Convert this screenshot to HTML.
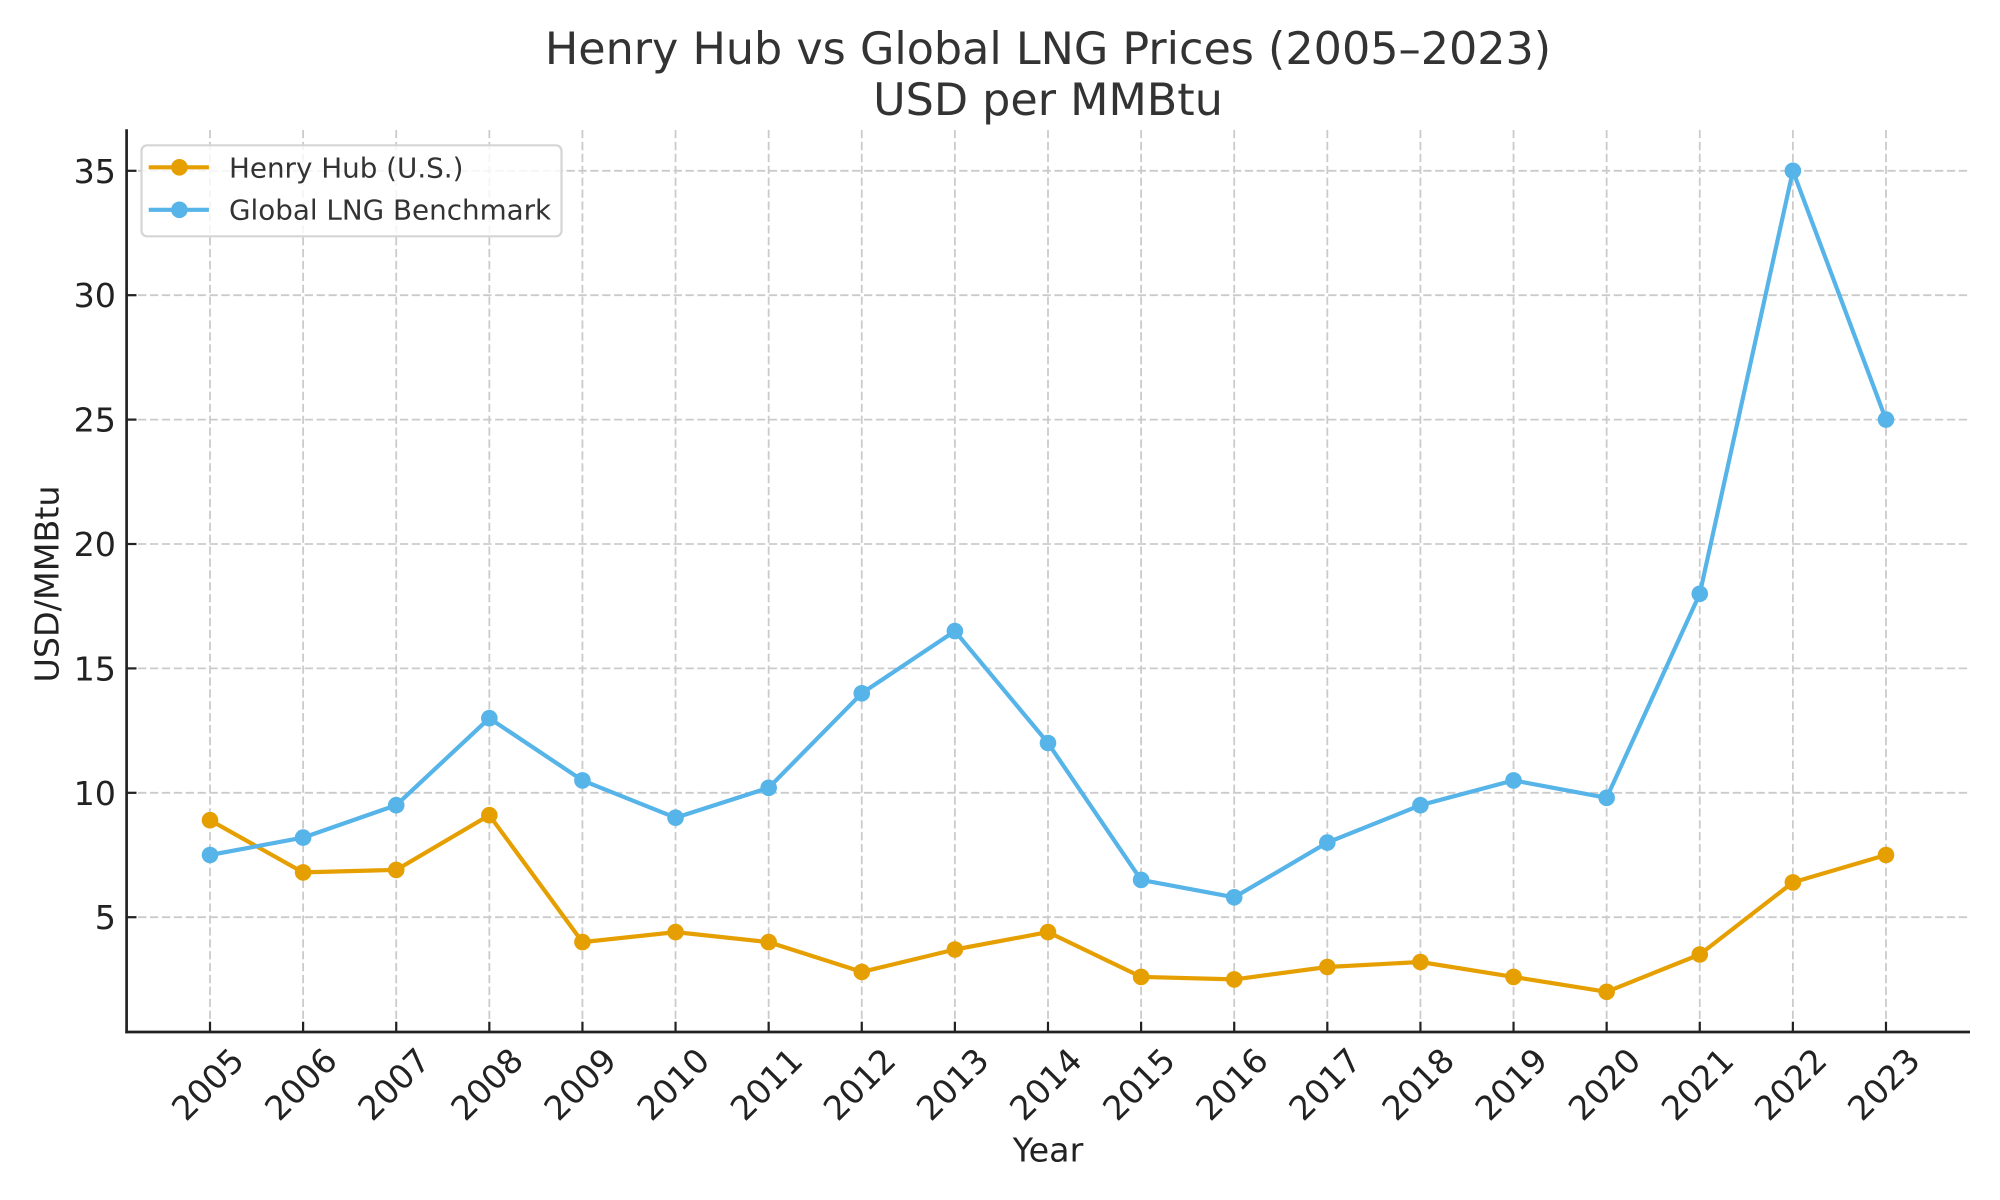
<!DOCTYPE html>
<html>
<head>
<meta charset="utf-8">
<style>
html,body{margin:0;padding:0;background:#fff;}
svg{display:block;}
text{font-family:"DejaVu Sans","Liberation Sans",sans-serif;}
</style>
</head>
<body>
<svg width="2000" height="1200" viewBox="0 0 2000 1200" xmlns="http://www.w3.org/2000/svg">
<rect width="2000" height="1200" fill="#fff"/>

<!-- Title -->
<text x="1048" y="64" font-size="44.44" fill="#333" text-anchor="middle">Henry Hub vs Global LNG Prices (2005–2023)</text>
<text x="1048" y="115" font-size="44.44" fill="#333" text-anchor="middle">USD per MMBtu</text>

<!-- Grid -->
<g stroke="#cbcbcb" stroke-width="1.8" stroke-dasharray="8.3 3.6" fill="none">
<line x1="126.2" x2="1969.8" y1="917.2" y2="917.2"/>
<line x1="126.2" x2="1969.8" y1="792.8" y2="792.8"/>
<line x1="126.2" x2="1969.8" y1="668.4" y2="668.4"/>
<line x1="126.2" x2="1969.8" y1="544.0" y2="544.0"/>
<line x1="126.2" x2="1969.8" y1="419.6" y2="419.6"/>
<line x1="126.2" x2="1969.8" y1="295.2" y2="295.2"/>
<line x1="126.2" x2="1969.8" y1="170.8" y2="170.8"/>
<line x1="210" x2="210" y1="130" y2="1032"/>
<line x1="303.11" x2="303.11" y1="130" y2="1032"/>
<line x1="396.22" x2="396.22" y1="130" y2="1032"/>
<line x1="489.33" x2="489.33" y1="130" y2="1032"/>
<line x1="582.44" x2="582.44" y1="130" y2="1032"/>
<line x1="675.55" x2="675.55" y1="130" y2="1032"/>
<line x1="768.66" x2="768.66" y1="130" y2="1032"/>
<line x1="861.77" x2="861.77" y1="130" y2="1032"/>
<line x1="954.88" x2="954.88" y1="130" y2="1032"/>
<line x1="1047.99" x2="1047.99" y1="130" y2="1032"/>
<line x1="1141.1" x2="1141.1" y1="130" y2="1032"/>
<line x1="1234.21" x2="1234.21" y1="130" y2="1032"/>
<line x1="1327.32" x2="1327.32" y1="130" y2="1032"/>
<line x1="1420.43" x2="1420.43" y1="130" y2="1032"/>
<line x1="1513.54" x2="1513.54" y1="130" y2="1032"/>
<line x1="1606.65" x2="1606.65" y1="130" y2="1032"/>
<line x1="1699.76" x2="1699.76" y1="130" y2="1032"/>
<line x1="1792.87" x2="1792.87" y1="130" y2="1032"/>
<line x1="1885.98" x2="1885.98" y1="130" y2="1032"/>
</g>

<!-- Henry Hub -->
<polyline fill="none" stroke="#E69F00" stroke-width="4.2" stroke-linejoin="round" stroke-linecap="round"
points="210,820.2 303.11,872.4 396.22,869.9 489.33,815.2 582.44,942.1 675.55,932.1 768.66,942.1 861.77,971.9 954.88,949.5 1047.99,932.1 1141.1,976.9 1234.21,979.4 1327.32,967.0 1420.43,962.0 1513.54,976.9 1606.65,991.8 1699.76,954.5 1792.87,882.4 1885.98,855.0"/>
<g fill="#E69F00">
<circle cx="210" cy="820.2" r="8.3"/><circle cx="303.11" cy="872.4" r="8.3"/><circle cx="396.22" cy="869.9" r="8.3"/><circle cx="489.33" cy="815.2" r="8.3"/><circle cx="582.44" cy="942.1" r="8.3"/><circle cx="675.55" cy="932.1" r="8.3"/><circle cx="768.66" cy="942.1" r="8.3"/><circle cx="861.77" cy="971.9" r="8.3"/><circle cx="954.88" cy="949.5" r="8.3"/><circle cx="1047.99" cy="932.1" r="8.3"/><circle cx="1141.1" cy="976.9" r="8.3"/><circle cx="1234.21" cy="979.4" r="8.3"/><circle cx="1327.32" cy="967.0" r="8.3"/><circle cx="1420.43" cy="962.0" r="8.3"/><circle cx="1513.54" cy="976.9" r="8.3"/><circle cx="1606.65" cy="991.8" r="8.3"/><circle cx="1699.76" cy="954.5" r="8.3"/><circle cx="1792.87" cy="882.4" r="8.3"/><circle cx="1885.98" cy="855.0" r="8.3"/>
</g>

<!-- Global LNG -->
<polyline fill="none" stroke="#56B4E9" stroke-width="4.2" stroke-linejoin="round" stroke-linecap="round"
points="210,855.0 303.11,837.6 396.22,805.2 489.33,718.2 582.44,780.4 675.55,817.7 768.66,787.8 861.77,693.3 954.88,631.1 1047.99,743.0 1141.1,879.9 1234.21,897.3 1327.32,842.6 1420.43,805.2 1513.54,780.4 1606.65,797.8 1699.76,593.8 1792.87,170.8 1885.98,419.6"/>
<g fill="#56B4E9">
<circle cx="210" cy="855.0" r="8.3"/><circle cx="303.11" cy="837.6" r="8.3"/><circle cx="396.22" cy="805.2" r="8.3"/><circle cx="489.33" cy="718.2" r="8.3"/><circle cx="582.44" cy="780.4" r="8.3"/><circle cx="675.55" cy="817.7" r="8.3"/><circle cx="768.66" cy="787.8" r="8.3"/><circle cx="861.77" cy="693.3" r="8.3"/><circle cx="954.88" cy="631.1" r="8.3"/><circle cx="1047.99" cy="743.0" r="8.3"/><circle cx="1141.1" cy="879.9" r="8.3"/><circle cx="1234.21" cy="897.3" r="8.3"/><circle cx="1327.32" cy="842.6" r="8.3"/><circle cx="1420.43" cy="805.2" r="8.3"/><circle cx="1513.54" cy="780.4" r="8.3"/><circle cx="1606.65" cy="797.8" r="8.3"/><circle cx="1699.76" cy="593.8" r="8.3"/><circle cx="1792.87" cy="170.8" r="8.3"/><circle cx="1885.98" cy="419.6" r="8.3"/>
</g>

<!-- Spines -->
<g stroke="#222" fill="none">
<line x1="126.6" x2="126.6" y1="129.3" y2="1033.3" stroke-width="2.7"/>
<line x1="125.3" x2="1970" y1="1032" y2="1032" stroke-width="2.7"/>
</g>
<!-- Ticks (inward) -->
<g stroke="#222" stroke-width="2.2">
<line x1="127" x2="136.5" y1="917.2" y2="917.2"/>
<line x1="127" x2="136.5" y1="792.8" y2="792.8"/>
<line x1="127" x2="136.5" y1="668.4" y2="668.4"/>
<line x1="127" x2="136.5" y1="544.0" y2="544.0"/>
<line x1="127" x2="136.5" y1="419.6" y2="419.6"/>
<line x1="127" x2="136.5" y1="295.2" y2="295.2"/>
<line x1="127" x2="136.5" y1="170.8" y2="170.8"/>
<line x1="210" x2="210" y1="1021.7" y2="1031"/>
<line x1="303.11" x2="303.11" y1="1021.7" y2="1031"/>
<line x1="396.22" x2="396.22" y1="1021.7" y2="1031"/>
<line x1="489.33" x2="489.33" y1="1021.7" y2="1031"/>
<line x1="582.44" x2="582.44" y1="1021.7" y2="1031"/>
<line x1="675.55" x2="675.55" y1="1021.7" y2="1031"/>
<line x1="768.66" x2="768.66" y1="1021.7" y2="1031"/>
<line x1="861.77" x2="861.77" y1="1021.7" y2="1031"/>
<line x1="954.88" x2="954.88" y1="1021.7" y2="1031"/>
<line x1="1047.99" x2="1047.99" y1="1021.7" y2="1031"/>
<line x1="1141.1" x2="1141.1" y1="1021.7" y2="1031"/>
<line x1="1234.21" x2="1234.21" y1="1021.7" y2="1031"/>
<line x1="1327.32" x2="1327.32" y1="1021.7" y2="1031"/>
<line x1="1420.43" x2="1420.43" y1="1021.7" y2="1031"/>
<line x1="1513.54" x2="1513.54" y1="1021.7" y2="1031"/>
<line x1="1606.65" x2="1606.65" y1="1021.7" y2="1031"/>
<line x1="1699.76" x2="1699.76" y1="1021.7" y2="1031"/>
<line x1="1792.87" x2="1792.87" y1="1021.7" y2="1031"/>
<line x1="1885.98" x2="1885.98" y1="1021.7" y2="1031"/>
</g>

<!-- Y tick labels -->
<g font-size="33.33" fill="#222" text-anchor="end">
<text x="116" y="929.2">5</text>
<text x="116" y="804.8">10</text>
<text x="116" y="680.4">15</text>
<text x="116" y="556.0">20</text>
<text x="116" y="431.6">25</text>
<text x="116" y="307.2">30</text>
<text x="116" y="182.8">35</text>
</g>

<!-- X tick labels -->
<g font-size="33.33" fill="#222" text-anchor="middle">
<text transform="translate(207.5,1084) rotate(-45)" y="12">2005</text>
<text transform="translate(300.6,1084) rotate(-45)" y="12">2006</text>
<text transform="translate(393.7,1084) rotate(-45)" y="12">2007</text>
<text transform="translate(486.8,1084) rotate(-45)" y="12">2008</text>
<text transform="translate(579.9,1084) rotate(-45)" y="12">2009</text>
<text transform="translate(673.0,1084) rotate(-45)" y="12">2010</text>
<text transform="translate(766.2,1084) rotate(-45)" y="12">2011</text>
<text transform="translate(859.3,1084) rotate(-45)" y="12">2012</text>
<text transform="translate(952.4,1084) rotate(-45)" y="12">2013</text>
<text transform="translate(1045.5,1084) rotate(-45)" y="12">2014</text>
<text transform="translate(1138.6,1084) rotate(-45)" y="12">2015</text>
<text transform="translate(1231.7,1084) rotate(-45)" y="12">2016</text>
<text transform="translate(1324.8,1084) rotate(-45)" y="12">2017</text>
<text transform="translate(1417.9,1084) rotate(-45)" y="12">2018</text>
<text transform="translate(1511.0,1084) rotate(-45)" y="12">2019</text>
<text transform="translate(1604.2,1084) rotate(-45)" y="12">2020</text>
<text transform="translate(1697.3,1084) rotate(-45)" y="12">2021</text>
<text transform="translate(1790.4,1084) rotate(-45)" y="12">2022</text>
<text transform="translate(1883.5,1084) rotate(-45)" y="12">2023</text>
</g>

<!-- Axis labels -->
<text x="1048" y="1161.7" font-size="33.33" fill="#222" text-anchor="middle">Year</text>
<text transform="translate(58.3,584) rotate(-90)" font-size="33.33" fill="#222" text-anchor="middle">USD/MMBtu</text>

<!-- Legend -->
<rect x="141.5" y="145.3" width="420" height="91" rx="5.5" ry="5.5" fill="#fff" fill-opacity="0.8" stroke="#d5d5d5" stroke-width="2.2"/>
<line x1="148.7" x2="208.9" y1="167.3" y2="167.3" stroke="#E69F00" stroke-width="4.2"/>
<circle cx="179.4" cy="167.3" r="8.3" fill="#E69F00"/>
<line x1="148.7" x2="208.9" y1="209.8" y2="209.8" stroke="#56B4E9" stroke-width="4.2"/>
<circle cx="179.4" cy="209.8" r="8.3" fill="#56B4E9"/>
<text x="229" y="177.3" font-size="27.78" fill="#333">Henry Hub (U.S.)</text>
<text x="229" y="219.3" font-size="27.78" fill="#333">Global LNG Benchmark</text>
</svg>
</body>
</html>
